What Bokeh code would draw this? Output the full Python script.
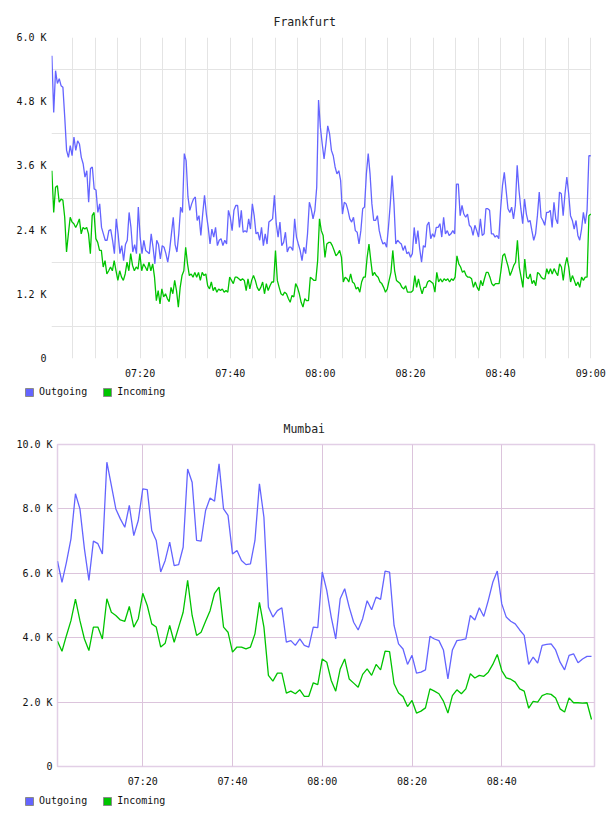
import pandas as pd
from bokeh.plotting import figure
from bokeh.layouts import column
from bokeh.models import (FixedTicker, DatetimeTickFormatter, CustomJSTickFormatter,
                          Grid, Range1d, Legend, LegendItem)
from bokeh.embed import file_html
from bokeh.resources import INLINE

DAY = "2024-01-01 "
FONT = "DejaVu Sans Mono"
BLUE = "#6464ff"
GREEN = "#00c400"

def ts(s):
    return pd.Timestamp(DAY + s)

def ms(s):
    return ts(s).value / 1e6

# ---------------- Frankfurt data (values in K) ----------------
fra_out = [
    5.66, 4.60, 5.38, 5.14, 5.23, 5.10, 5.07, 4.51, 3.89, 3.76, 3.98, 3.79, 4.14, 3.89, 4.07, 4.01,
    3.76, 3.64, 3.39, 3.51, 2.92, 3.55, 3.58, 3.17, 3.15, 2.73, 2.89, 2.45, 2.33, 2.21, 2.21, 2.39,
    2.41, 2.21, 1.96, 2.61, 2.33, 1.96, 2.11, 1.83, 2.13, 2.21, 2.73, 2.45, 1.99, 2.13, 1.96, 2.83,
    2.27, 1.96, 2.21, 2.02, 1.99, 1.96, 2.33, 2.08, 1.77, 2.21, 2.13, 1.86, 2.11, 2.08, 1.96, 1.80,
    2.02, 2.33, 2.64, 2.13, 1.99, 2.33, 2.83, 2.73, 3.83,
    3.70, 3.02, 2.77, 2.89, 2.98, 3.02, 2.58, 2.67, 2.30, 2.70, 3.05, 2.70, 2.45, 2.14, 2.42, 2.27,
    2.45, 2.11, 2.21, 2.24, 2.11, 2.21, 2.14, 2.77, 2.64, 2.39, 2.77, 2.86, 2.86, 2.45, 2.77, 2.36,
    2.39, 2.36, 2.61, 2.42, 2.89, 2.67, 2.33, 2.36, 2.21, 2.45, 2.11, 2.33, 2.14, 2.55, 2.58, 2.61,
    3.05, 2.52, 2.27, 2.55, 2.11, 2.17, 2.36, 1.99, 2.08, 2.08, 2.02, 2.61, 2.27, 2.14, 2.02, 1.83,
    2.08, 1.96, 2.33, 2.92, 2.80, 2.61, 2.77, 3.20,
    4.83, 4.32, 4.01, 3.73, 4.01, 4.35, 4.20, 3.89, 3.79, 3.58, 3.45, 3.51, 3.33, 2.70, 2.92, 2.89,
    2.77, 2.61, 2.55, 2.64, 2.39, 2.36, 2.14, 2.39, 2.80, 2.83, 3.45, 3.83, 3.45, 2.89, 2.58, 2.58,
    2.67, 2.39, 2.24, 2.14, 2.17, 2.08, 2.45, 2.89, 3.42, 2.89, 2.14, 2.21, 2.17, 2.14, 2.02, 2.11,
    1.96, 1.99, 1.89, 1.96, 2.45, 2.14, 2.39, 2.05, 1.80, 2.11, 2.08, 2.49, 2.55, 2.24, 2.33, 2.27,
    2.45, 2.45, 2.52, 2.27, 2.64, 2.33, 2.39, 2.30, 2.33, 2.39, 2.33, 3.26, 3.26,
    2.67, 2.86, 2.70, 2.64, 2.70, 2.49, 2.45, 2.30, 2.49, 2.39, 2.27, 2.61, 2.30, 2.33, 2.80, 2.80,
    2.77, 2.33, 2.33, 2.27, 2.30, 2.24, 2.80, 3.23, 3.48, 3.14, 2.80, 2.73, 2.83, 2.61, 2.86, 3.61,
    3.14, 2.80, 2.52, 2.98, 2.70, 2.55, 2.58, 2.39, 2.21, 2.33, 2.67, 3.11, 2.64, 2.58, 2.49, 2.73,
    2.73, 2.77, 2.45, 2.92, 2.61, 2.52, 3.11, 3.08, 2.67, 3.08, 3.39, 3.08, 2.67, 2.58, 2.42, 2.58,
    2.30, 2.21, 2.42, 2.73, 2.52, 2.77, 3.79, 3.79,
]
fra_in = [
    3.51, 2.73, 3.20, 3.23, 2.92, 2.98, 2.96, 2.64, 1.99, 2.33, 2.64, 2.55, 2.52, 2.45, 2.52, 2.61,
    2.33, 2.45, 2.42, 2.45, 2.33, 1.96, 2.67, 2.73, 2.24, 2.17, 2.02, 2.02, 1.71, 1.83, 1.58, 1.64,
    1.71, 1.64, 1.83, 1.64, 1.46, 1.64, 1.52, 1.46, 1.58, 1.80, 1.64, 1.96, 1.74, 1.64, 1.71, 1.67,
    1.96, 1.64, 1.77, 1.71, 1.64, 1.80, 1.64, 1.77, 1.52, 1.08, 1.27, 1.02, 1.30, 1.15, 1.21, 1.12,
    1.06, 1.33, 1.21, 1.46, 1.27, 0.96, 1.33, 1.55, 1.64, 2.08,
    1.77, 1.55, 1.58, 1.52, 1.61, 1.52, 1.61, 1.46, 1.61, 1.55, 1.58, 1.36, 1.30, 1.43, 1.27, 1.33,
    1.24, 1.30, 1.27, 1.30, 1.24, 1.27, 1.24, 1.52, 1.46, 1.40, 1.52, 1.52, 1.49, 1.46, 1.49, 1.46,
    1.27, 1.49, 1.30, 1.46, 1.55, 1.46, 1.33, 1.27, 1.33, 1.43, 1.21, 1.40, 1.27, 1.36, 1.43, 1.43,
    2.02, 1.46, 1.33, 1.21, 1.18, 1.24, 1.21, 1.12, 1.05, 1.18, 1.15, 1.40, 1.33, 1.21, 1.05, 0.96,
    1.12, 1.08, 1.08, 1.52, 1.49, 1.46, 1.46, 1.83,
    2.61, 2.39, 2.30, 1.89, 2.14, 2.17, 2.17, 2.11, 2.02, 1.92, 1.96, 2.02, 1.89, 1.43, 1.52, 1.49,
    1.43, 1.58, 1.43, 1.40, 1.30, 1.33, 1.24, 1.43, 1.52, 1.52, 1.89, 2.14, 1.83, 1.55, 1.61, 1.55,
    1.52, 1.43, 1.40, 1.33, 1.24, 1.30, 1.46, 1.61, 2.02, 1.64, 1.46, 1.43, 1.40, 1.33, 1.30, 1.36,
    1.24, 1.24, 1.24, 1.27, 1.55, 1.33, 1.49, 1.33, 1.21, 1.33, 1.33, 1.43, 1.46, 1.43, 1.40, 1.24,
    1.61, 1.43, 1.49, 1.43, 1.49, 1.46, 1.49, 1.43, 1.49, 1.46, 1.52, 1.92, 1.77,
    1.71, 1.61, 1.64, 1.55, 1.52, 1.52, 1.49, 1.33, 1.43, 1.33, 1.27, 1.46, 1.36, 1.49, 1.61, 1.61,
    1.52, 1.40, 1.36, 1.40, 1.40, 1.40, 1.64, 1.92, 1.96, 1.83, 1.71, 1.55, 1.64, 1.74, 1.80, 2.21,
    1.71, 1.52, 1.33, 1.86, 1.52, 1.49, 1.58, 1.40, 1.46, 1.36, 1.61, 1.58, 1.52, 1.49, 1.49, 1.68,
    1.58, 1.68, 1.58, 1.68, 1.61, 1.55, 1.77, 1.71, 1.46, 1.74, 1.89, 1.71, 1.43, 1.55, 1.46, 1.36,
    1.43, 1.33, 1.52, 1.46, 1.52, 1.52, 2.67, 2.70,
]
fra_first, fra_last = "07:00:25", "09:00:00"
fra_xrange = ("07:00:20", "09:00:10")
fra_yticks = [0, 1.2, 2.4, 3.6, 4.8, 6.0]
fra_ygrid = [0.6, 1.8, 3.0, 4.2, 5.4]
fra_xlabels = ["07:20", "07:40", "08:00", "08:20", "08:40", "09:00"]

# ---------------- Mumbai data (values in K, one per minute) ----------------
mum_out = [
    6.38, 5.72, 6.35, 7.07, 8.47, 8.00, 6.76, 5.78, 7.00, 6.92, 6.60, 9.45, 8.73, 8.00, 7.69, 7.43,
    8.11, 7.17, 7.64, 8.62, 8.60, 7.33, 7.02, 6.04, 6.40, 6.97, 6.24, 6.27, 6.81, 9.24, 8.83, 7.02,
    7.00, 7.95, 8.34, 8.24, 9.40, 8.00, 7.80, 6.60, 6.71, 6.40, 6.27, 6.29, 7.02, 8.78, 7.74, 4.95,
    4.64, 4.84, 4.93, 3.86, 3.91, 3.76, 3.96,
    3.76, 3.71, 4.33, 4.31, 6.04, 5.47, 4.64, 3.96, 5.21, 5.52, 4.95, 4.48, 4.24, 4.59, 5.15, 4.87,
    5.26, 5.19, 6.07, 6.04, 4.38, 3.81, 3.65, 3.17, 3.45, 2.90, 2.93, 3.00, 4.04, 3.96, 3.91, 3.62,
    2.72, 3.62, 3.91, 3.93, 3.96, 4.69, 4.55, 4.93, 4.66, 5.16, 5.72, 6.07, 5.05, 4.64, 4.51, 4.43,
    4.24, 4.07, 3.17, 3.40, 3.21, 3.76, 3.79, 3.81, 3.62, 3.24, 3.00, 3.45, 3.50, 3.22, 3.34, 3.42,
    3.42,
]
mum_in = [
    3.89, 3.58, 4.07, 4.53, 5.20, 4.53, 3.96, 3.60, 4.33, 4.33, 3.96, 5.21, 4.79, 4.69, 4.55, 4.51,
    4.97, 4.33, 4.59, 5.38, 5.00, 4.43, 4.33, 3.71, 3.83, 4.38, 3.86, 4.33, 4.79, 5.78, 4.69, 4.07,
    4.17, 4.51, 4.84, 5.38, 5.57, 4.33, 4.17, 3.55, 3.71, 3.71, 3.65, 3.71, 4.12, 5.10, 4.33, 2.83,
    2.65, 2.90, 2.90, 2.28, 2.34, 2.26, 2.38,
    2.18, 2.18, 2.60, 2.54, 3.34, 3.24, 2.67, 2.34, 3.03, 3.34, 2.72, 2.59, 2.46, 2.86, 3.03, 2.83,
    3.17, 3.00, 3.58, 3.57, 2.57, 2.28, 2.17, 1.86, 2.05, 1.66, 1.72, 1.82, 2.41, 2.34, 2.26, 2.03,
    1.66, 2.20, 2.38, 2.26, 2.41, 2.88, 2.75, 2.83, 2.80, 2.93, 3.17, 3.48, 2.98, 2.75, 2.71, 2.62,
    2.41, 2.34, 1.81, 2.02, 2.00, 2.20, 2.26, 2.24, 2.13, 1.79, 1.69, 2.13, 1.98, 1.98, 1.97, 1.98,
    1.46,
]
mum_first = "07:01"
mum_xrange = ("07:01:00", "09:00:40")
mum_yticks = [0, 2, 4, 6, 8, 10]
mum_ygrid_major = [2, 4, 6, 8]
mum_ygrid_minor = [1, 3, 5, 7, 9]
mum_xlabels = ["07:20", "07:40", "08:00", "08:20", "08:40"]
legend_labels = ["Outgoing", "Incoming"]

# ---------------- helpers ----------------
Y_FMT = CustomJSTickFormatter(code="return tick == 0 ? '0' : tick.toFixed(1) + ' K';")
X_FMT = dict(minutes="%H:%M", hourmin="%H:%M", hours="%H:%M")
CHART_H = 382
LEG_H = 26


def base_fig(xr, ymax, left, right, top, bottom, title, title_offset):
    p = figure(width=608, height=CHART_H, x_axis_type="datetime",
               x_range=Range1d(ts(xr[0]), ts(xr[1])), y_range=Range1d(0, ymax),
               output_backend="svg", toolbar_location=None, frame_align=False,
               min_border_left=left, min_border_right=right,
               min_border_top=top, min_border_bottom=bottom)
    p.background_fill_color = "white"
    p.border_fill_color = "white"
    p.title.text = title
    p.title.align = "left"
    p.title.offset = title_offset
    p.title.standoff = 18
    p.title.text_font = FONT
    p.title.text_font_size = "11.5px"
    p.title.text_font_style = "normal"
    p.title.text_color = "#222222"
    for ax in (p.xaxis, p.yaxis):
        ax.axis_line_color = None
        ax.major_tick_line_color = None
        ax.minor_tick_line_color = None
        ax.major_tick_out = 0
        ax.major_tick_in = 0
        ax.minor_tick_out = 0
        ax.minor_tick_in = 0
        ax.major_label_text_font = FONT
        ax.major_label_text_font_size = "10px"
        ax.major_label_text_color = "#111111"
    p.xaxis.major_label_standoff = 9
    p.yaxis.major_label_standoff = 5
    p.yaxis.formatter = Y_FMT
    p.xaxis.formatter = DatetimeTickFormatter(**X_FMT)
    return p


def legend_fig(vx, vy):
    q = figure(width=608, height=LEG_H, x_range=Range1d(0, 608), y_range=Range1d(0, LEG_H),
               output_backend="svg", toolbar_location=None, frame_align=False,
               x_axis_location=None, y_axis_location=None,
               min_border_left=0, min_border_right=0, min_border_top=0, min_border_bottom=0)
    q.grid.visible = False
    q.outline_line_color = None
    q.background_fill_color = "white"
    q.border_fill_color = "white"
    # swatch glyphs kept outside the visible range; they only feed the legend
    r1 = q.quad(left=[-30], right=[-20], top=[-20], bottom=[-30], fill_color=BLUE,
                line_color="#8a8a8a")
    r2 = q.quad(left=[-30], right=[-20], top=[-20], bottom=[-30], fill_color=GREEN,
                line_color="#8a8a8a")
    lg = Legend(items=[LegendItem(label=legend_labels[0], renderers=[r1]),
                       LegendItem(label=legend_labels[1], renderers=[r2])],
                location=(vx, vy), orientation="horizontal", padding=0, margin=0,
                spacing=15, label_standoff=5, glyph_width=10, glyph_height=10,
                label_height=10, label_text_font=FONT, label_text_font_size="10px",
                label_text_color="#111111", border_line_color=None,
                background_fill_alpha=0)
    q.add_layout(lg)
    return q


# ---------------- Frankfurt ----------------
p1 = base_fig(fra_xrange, 6.0, 51, 17, 37, 24, "Frankfurt", 222)
p1.outline_line_color = None
p1.yaxis.ticker = FixedTicker(ticks=fra_yticks)
p1.xaxis.ticker = FixedTicker(ticks=[ms(t) for t in fra_xlabels])
fra_grid5 = [t.value / 1e6 for t in pd.date_range(ts("07:05"), ts("09:00"), freq="5min")]
p1.xgrid.ticker = FixedTicker(ticks=fra_grid5)
p1.ygrid.ticker = FixedTicker(ticks=fra_ygrid)
for g in (p1.xgrid, p1.ygrid):
    g.grid_line_color = "#e4e4e4"
    g.grid_line_width = 1

t_fo = pd.date_range(ts(fra_first), ts(fra_last), periods=len(fra_out))
t_fi = pd.date_range(ts(fra_first), ts(fra_last), periods=len(fra_in))
p1.line(t_fo, fra_out, line_color=BLUE, line_width=1.3)
p1.line(t_fi, fra_in, line_color=GREEN, line_width=1.3)
leg1 = legend_fig(24, 11)

# ---------------- Mumbai ----------------
p2 = base_fig(mum_xrange, 10.0, 57, 14, 36, 24, "Mumbai", 226)
p2.outline_line_color = "#e2cfe6"
p2.outline_line_width = 1.5
p2.yaxis.ticker = FixedTicker(ticks=mum_yticks)
p2.xaxis.ticker = FixedTicker(ticks=[ms(t) for t in mum_xlabels])
all5 = pd.date_range(ts("07:05"), ts("08:55"), freq="5min")
major_ms = [ms(t) for t in mum_xlabels]
minor_ms = [t.value / 1e6 for t in all5 if t.minute % 20 != 0]
GRAY = "#e6e6e6"
PURPLE = "#dcc4dc"
p2.add_layout(Grid(dimension=0, ticker=FixedTicker(ticks=minor_ms), grid_line_color=GRAY))
p2.add_layout(Grid(dimension=1, ticker=FixedTicker(ticks=mum_ygrid_minor), grid_line_color=GRAY))
p2.xgrid.ticker = FixedTicker(ticks=major_ms)
p2.ygrid.ticker = FixedTicker(ticks=mum_ygrid_major)
for g in (p2.xgrid, p2.ygrid):
    g.grid_line_color = PURPLE
    g.grid_line_width = 1

t_m = pd.date_range(ts(mum_first), periods=len(mum_out), freq="1min")
t_mi = pd.date_range(ts(mum_first), periods=len(mum_in), freq="1min")
p2.line(t_m, mum_out, line_color=BLUE, line_width=1.3)
p2.line(t_mi, mum_in, line_color=GREEN, line_width=1.3)
leg2 = legend_fig(24, 10)

layout = column(p1, leg1, p2, leg2, spacing=0)
open("out.html", "w").write(file_html(layout, INLINE))
